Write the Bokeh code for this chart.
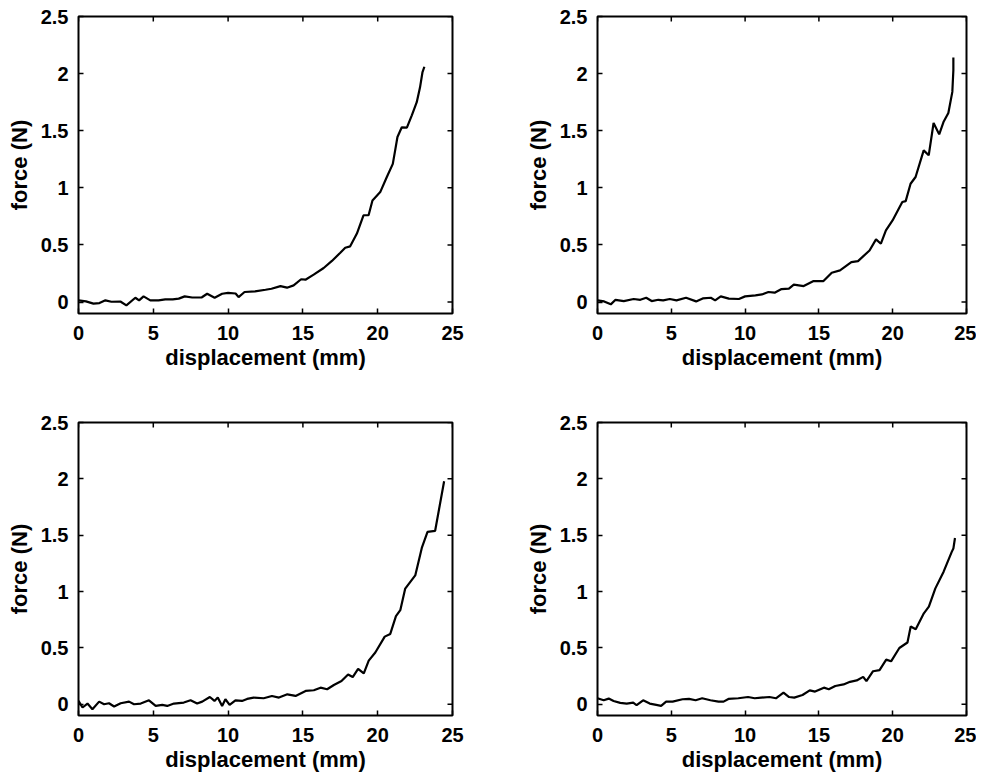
from bokeh.plotting import figure
from bokeh.models import Range1d, FixedTicker
from bokeh.layouts import column, row
from bokeh.embed import file_html
from bokeh.resources import INLINE

# ---------------- data ----------------
x_ticks = [0, 5, 10, 15, 20, 25]
x_tick_labels = ["0", "5", "10", "15", "20", "25"]
y_ticks = [0, 0.5, 1, 1.5, 2, 2.5]
y_tick_labels = ["0", "0.5", "1", "1.5", "2", "2.5"]
x_label = "displacement (mm)"
y_label = "force (N)"
x_limits = (0, 25)
y_limits = (-0.1, 2.5)

x1 = [0, 0.5, 1.0, 1.4, 1.8, 2.2, 2.8, 3.2, 3.8, 4.05, 4.35, 4.8, 5.35, 5.8, 6.3, 6.7,
      7.1, 7.6, 8.25, 8.6, 9.1, 9.6, 10.0, 10.5, 10.7, 11.1, 11.8, 12.5, 12.9, 13.5,
      13.94, 14.38, 14.88, 15.17, 15.72, 16.39, 16.94, 17.5, 17.83, 18.16, 18.61, 19.05,
      19.39, 19.65, 20.17, 20.61, 21.01, 21.17, 21.32, 21.61, 21.95, 22.28, 22.61, 22.83,
      22.99, 23.12]
y1 = [0.015, 0.006, -0.014, -0.009, 0.015, 0.003, 0.005, -0.029, 0.038, 0.015, 0.05,
      0.015, 0.015, 0.024, 0.024, 0.03, 0.05, 0.04, 0.042, 0.073, 0.038, 0.073, 0.08,
      0.075, 0.044, 0.088, 0.094, 0.108, 0.117, 0.14, 0.126, 0.146, 0.2, 0.196, 0.24,
      0.298, 0.36, 0.432, 0.476, 0.488, 0.6, 0.76, 0.76, 0.89, 0.963, 1.095, 1.21, 1.33,
      1.445, 1.53, 1.527, 1.635, 1.75, 1.88, 2.01, 2.06]

x2 = [0, 0.45, 0.9, 1.22, 1.78, 2.45, 2.9, 3.3, 3.67, 4.12, 4.45, 4.9, 5.35, 6.0, 6.68,
      7.13, 7.68, 7.97, 8.35, 8.9, 9.58, 10.0, 10.7, 11.14, 11.58, 12.0, 12.47, 12.97,
      13.3, 13.97, 14.64, 15.31, 15.87, 16.43, 17.2, 17.65, 18.43, 18.87, 19.2, 19.54,
      19.99, 20.65, 20.88, 21.21, 21.55, 22.1, 22.44, 22.77, 23.15, 23.44, 23.77, 24.04,
      24.11, 24.11]
y2 = [0.015, 0.006, -0.02, 0.02, 0.009, 0.027, 0.02, 0.038, 0.009, 0.02, 0.015, 0.027,
      0.015, 0.038, 0.006, 0.032, 0.038, 0.015, 0.05, 0.03, 0.027, 0.05, 0.059, 0.067,
      0.088, 0.082, 0.114, 0.117, 0.152, 0.14, 0.184, 0.184, 0.257, 0.277, 0.35, 0.359,
      0.452, 0.549, 0.511, 0.628, 0.715, 0.876, 0.884, 1.036, 1.095, 1.328, 1.285, 1.568,
      1.468, 1.576, 1.655, 1.84, 2.03, 2.14]

x3 = [0, 0.27, 0.6, 0.93, 1.38, 1.71, 2.04, 2.38, 2.82, 3.38, 3.71, 4.16, 4.71, 5.16,
      5.6, 5.93, 6.38, 7.04, 7.49, 7.93, 8.27, 8.78, 9.09, 9.31, 9.6, 9.82, 10.1, 10.49,
      10.93, 11.27, 11.71, 12.38, 12.93, 13.4, 13.96, 14.51, 15.18, 15.73, 16.18, 16.62,
      17.07, 17.58, 18.02, 18.33, 18.69, 19.07, 19.4, 19.84, 20.47, 20.84, 21.22, 21.51,
      21.84, 22.51, 22.96, 23.33, 23.84, 24.44]
y3 = [0.03, -0.029, 0.006, -0.044, 0.023, 0.0, 0.009, -0.02, 0.009, 0.023, 0.0, 0.006,
      0.035, -0.015, -0.006, -0.015, 0.006, 0.015, 0.035, 0.006, 0.023, 0.064, 0.029,
      0.059, -0.015, 0.044, -0.006, 0.035, 0.029, 0.047, 0.059, 0.053, 0.073, 0.059,
      0.088, 0.074, 0.118, 0.124, 0.147, 0.133, 0.171, 0.206, 0.264, 0.241, 0.314, 0.273,
      0.387, 0.459, 0.6, 0.624, 0.782, 0.835, 1.026, 1.143, 1.392, 1.53, 1.539, 1.979]

x4 = [0, 0.42, 0.76, 1.09, 1.54, 1.98, 2.42, 2.65, 3.09, 3.54, 3.98, 4.31, 4.65, 5.09,
      5.76, 6.2, 6.65, 7.09, 7.65, 8.2, 8.54, 8.87, 9.54, 10.2, 10.65, 11.09, 11.65, 12.09,
      12.6, 12.98, 13.33, 13.89, 14.38, 14.74, 15.34, 15.67, 16.11, 16.67, 17.11, 17.56,
      18.0, 18.22, 18.67, 19.11, 19.56, 19.89, 20.45, 21.0, 21.22, 21.56, 22.11, 22.45,
      22.89, 23.45, 24.0, 24.11, 24.22]
y4 = [0.053, 0.035, 0.05, 0.029, 0.012, 0.006, 0.015, -0.009, 0.035, 0.006, -0.006,
      -0.015, 0.023, 0.023, 0.044, 0.047, 0.035, 0.053, 0.035, 0.023, 0.023, 0.047, 0.053,
      0.064, 0.053, 0.059, 0.064, 0.053, 0.103, 0.064, 0.059, 0.082, 0.123, 0.112, 0.147,
      0.133, 0.162, 0.176, 0.199, 0.211, 0.243, 0.205, 0.293, 0.302, 0.396, 0.381, 0.499,
      0.548, 0.69, 0.666, 0.807, 0.866, 1.028, 1.176, 1.352, 1.381, 1.475]

# ---------------- styling ----------------
FONT = "Liberation Sans"
TICK_SIZE = "20px"
LABEL_SIZE = "22px"


def style_main_axis(ax, ticks, labels, label, standoff, label_standoff):
    ax.ticker = FixedTicker(ticks=ticks)
    ax.major_label_overrides = dict(zip(ticks, labels))
    ax.axis_label = label
    ax.axis_label_text_font = FONT
    ax.axis_label_text_font_style = "bold"
    ax.axis_label_text_font_size = LABEL_SIZE
    ax.axis_label_text_color = "black"
    ax.axis_label_standoff = label_standoff
    ax.major_label_text_font = FONT
    ax.major_label_text_font_style = "bold"
    ax.major_label_text_font_size = TICK_SIZE
    ax.major_label_text_color = "black"
    ax.major_label_standoff = standoff
    ax.major_tick_in = 5
    ax.major_tick_out = 0
    ax.major_tick_line_color = "black"
    ax.major_tick_line_width = 1.5
    ax.minor_tick_line_color = None
    ax.axis_line_color = None


def panel(xs, ys, width, height, bl, br, bt, bb):
    p = figure(width=width, height=height,
               x_range=Range1d(*x_limits), y_range=Range1d(*y_limits),
               output_backend="svg", toolbar_location=None,
               min_border_left=bl, min_border_right=br,
               min_border_top=bt, min_border_bottom=bb)
    p.line(xs, ys, line_color="black", line_width=2.2)
    # mirrored inward ticks on the right and top edges (box on), clipped by the frame
    p.scatter([x_limits[1]] * len(y_ticks), y_ticks, marker="dash", size=10,
              line_color="black", line_width=1.5)
    p.scatter(x_ticks, [y_limits[1]] * len(x_ticks), marker="dash", size=10,
              angle=1.5707963, line_color="black", line_width=1.5)
    p.xgrid.visible = False
    p.ygrid.visible = False
    p.outline_line_color = "black"
    p.outline_line_width = 2
    p.outline_line_alpha = 1
    style_main_axis(p.xaxis[0], x_ticks, x_tick_labels, x_label, 12, 2)
    style_main_axis(p.yaxis[0], y_ticks, y_tick_labels, y_label, 10, 6)
    return p


p1 = panel(x1, y1, 522, 406, 78, 70, 16, 93)
p2 = panel(x2, y2, 454, 406, 70, 10, 16, 93)
p3 = panel(x3, y3, 522, 368, 78, 70, 16, 55)
p4 = panel(x4, y4, 454, 368, 70, 10, 16, 55)

layout = column(row(p1, p2), row(p3, p4))

open("out.html", "w").write(file_html(layout, INLINE))
